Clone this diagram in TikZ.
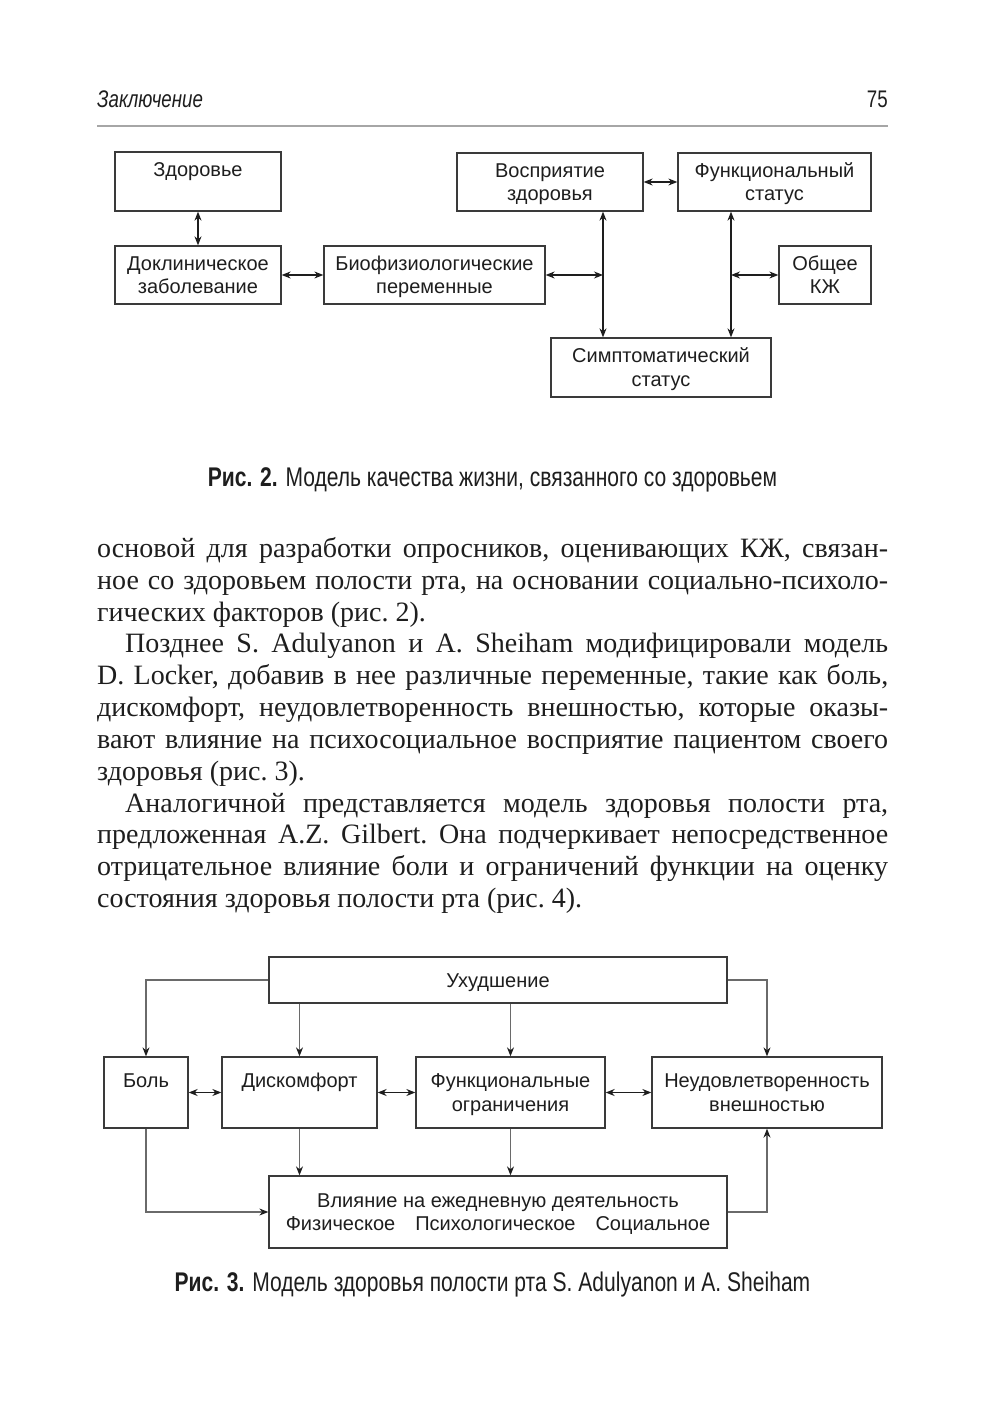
\documentclass[tikz,border=0pt]{standalone}
\usepackage{fontspec}
\setmainfont{Liberation Serif}
\newfontfamily\dgfont{Liberation Sans}
\newfontfamily\cpfont[FakeStretch=0.78]{Liberation Sans}
\usetikzlibrary{arrows.meta}
\definecolor{ink}{HTML}{1E1E1E}
\definecolor{boxc}{HTML}{3A3A3A}
\definecolor{linec}{HTML}{6A6A6A}
\newcommand\tstr{\rule{0pt}{21.5pt}}
\newcommand\onestr{\rule[-5pt]{0pt}{24pt}}
\tikzset{
  tip/.tip={Stealth[length=9pt,width=7pt]},
  gtip/.tip={Stealth[length=9pt,width=7pt,color=ink]},
  box/.style={draw=boxc, line width=1.3pt, inner sep=0pt, align=center,
    font=\dgfont\fontsize{20}{23.5}\selectfont, text=ink},
  darr/.style={line width=1.2pt, draw=ink, tip-tip},
  garr/.style={line width=1.2pt, draw=linec, -gtip},
  body/.style={anchor=base west, inner sep=0pt, font=\fontsize{28}{32}\selectfont\frenchspacing, text=ink},
  capt/.style={anchor=base, inner sep=0pt, font=\cpfont\fontsize{27}{30}\selectfont, text=ink},
}
\begin{document}
\begin{tikzpicture}[x=1pt,y=-1pt]
\useasboundingbox[fill=white] (0,0) rectangle (1000,1420);

% header
\node[anchor=base west, inner sep=0pt, font=\cpfont\itshape\fontsize{24}{26}\selectfont, text=ink] (hdr) at (97,108) {Заключение};
\node[anchor=base east, inner sep=0pt, font=\cpfont\fontsize{24}{26}\selectfont, text=ink] (pg) at (888,108) {75};
\draw[line width=1.8pt, color=gray!70] (97,126) -- (888,126);

% figure 2
\node[box, minimum width=166pt, minimum height=59pt] (zdr) at (198,181.5) {\tstr Здоровье\\\strut};
\node[box, minimum width=166pt, minimum height=58pt] (dokl) at (198,275) {\tstr Доклиническое\\заболевание\strut};
\node[box, minimum width=221pt, minimum height=58pt] (bio) at (434.5,275) {\tstr Биофизиологические\\переменные\strut};
\node[box, minimum width=186pt, minimum height=58pt] (vosp) at (550,182) {\tstr Восприятие\\здоровья\strut};
\node[box, minimum width=193pt, minimum height=58pt] (funk) at (774.5,182) {\tstr Функциональный\\статус\strut};
\node[box, minimum width=92pt, minimum height=58pt] (obsh) at (825,275) {\tstr Общее\\КЖ\strut};
\node[box, minimum width=220pt, minimum height=59pt] (simp) at (661,367.5) {\tstr Симптоматический\\статус\strut};
\coordinate (j1) at (603,275);
\coordinate (j2) at (731,275);

\draw[darr] (zdr.south) -- (dokl.north);
\draw[darr] (dokl.east) -- (bio.west);
\draw[darr] (vosp.east) -- (funk.west);
\draw[darr] (vosp.south -| j1) -- (simp.north -| j1);
\draw[darr] (funk.south -| j2) -- (simp.north -| j2);
\draw[darr] (bio.east) -- (j1);
\draw[darr] (j2) -- (obsh.west);

\node[capt] (cap2) at (492.5,486) {\textbf{Рис. 2.} Модель качества жизни, связанного со здоровьем};

% body text
\node[body] (l1) at (97,557) {\makebox[791pt][s]{основой для разработки опросников, оценивающих КЖ, связан-}};
\node[body] (l2) at (97,589) {\makebox[791pt][s]{ное со здоровьем полости рта, на основании социально-психоло-}};
\node[body] (l3) at (97,621) {гических факторов (рис. 2).};
\node[body] (l4) at (125,652) {\makebox[763pt][s]{Позднее S. Adulyanon и A. Sheiham модифицировали модель}};
\node[body] (l5) at (97,684) {\makebox[791pt][s]{D. Locker, добавив в нее различные переменные, такие как боль,}};
\node[body] (l6) at (97,716) {\makebox[791pt][s]{дискомфорт, неудовлетворенность внешностью, которые оказы-}};
\node[body] (l7) at (97,748) {\makebox[791pt][s]{вают влияние на психосоциальное восприятие пациентом своего}};
\node[body] (l8) at (97,780) {здоровья (рис. 3).};
\node[body] (l9) at (125,812) {\makebox[763pt][s]{Аналогичной представляется модель здоровья полости рта,}};
\node[body] (l10) at (97,843) {\makebox[791pt][s]{предложенная A.Z. Gilbert. Она подчеркивает непосредственное}};
\node[body] (l11) at (97,875) {\makebox[791pt][s]{отрицательное влияние боли и ограничений функции на оценку}};
\node[body] (l12) at (97,907) {состояния здоровья полости рта (рис. 4).};

% figure 3
\node[box, minimum width=458pt, minimum height=46pt] (uhud) at (498,980) {\onestr Ухудшение};
\node[box, minimum width=84pt, minimum height=71pt] (bol) at (146,1092.5) {\tstr Боль\\\strut};
\node[box, minimum width=155pt, minimum height=71pt] (disk) at (299.5,1092.5) {\tstr Дискомфорт\\\strut};
\node[box, minimum width=189pt, minimum height=71pt] (fogr) at (510.5,1092.5) {\tstr Функциональные\\ограничения\strut};
\node[box, minimum width=230pt, minimum height=71pt] (neud) at (767,1092.5) {\tstr Неудовлетворенность\\внешностью\strut};
\node[box, minimum width=458pt, minimum height=72pt] (vl) at (498,1212) {\tstr Влияние на ежедневную деятельность\\Физическое\hspace{20pt}Психологическое\hspace{20pt}Социальное\strut};

\draw[garr] (uhud.west) -| (bol.north);
\draw[garr] (uhud.east) -| (neud.north);
\draw[garr] (uhud.south -| disk.north) -- (disk.north);
\draw[garr] (uhud.south -| fogr.north) -- (fogr.north);
\draw[garr] (disk.south) -- (disk.south |- vl.north);
\draw[garr] (fogr.south) -- (fogr.south |- vl.north);
\draw[garr] (bol.south) |- (vl.west);
\draw[garr] (vl.east) -| (neud.south);
\draw[darr] (bol.east) -- (disk.west);
\draw[darr] (disk.east) -- (fogr.west);
\draw[darr] (fogr.east) -- (neud.west);

\node[capt] (cap3) at (492.5,1291) {\textbf{Рис. 3.} Модель здоровья полости рта S. Adulyanon и A. Sheiham};
\end{tikzpicture}
\end{document}
